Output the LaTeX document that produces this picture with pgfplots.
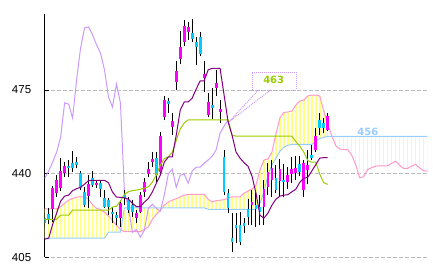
\documentclass[border=0pt]{standalone}
\usepackage{fontspec}
\setmainfont{Liberation Sans}
\newfontfamily\lblfont{DejaVu Sans}
\usepackage{pgfplots}
\usepackage{pgfplotstable}
\pgfplotsset{compat=1.18}
\definecolor{upc}{HTML}{FF00FF}
\definecolor{dnc}{HTML}{00CCFF}
\definecolor{tenkan}{HTML}{800080}
\definecolor{kijun}{HTML}{99CC00}
\definecolor{chikou}{HTML}{CC99FF}
\definecolor{spana}{HTML}{FF99CC}
\definecolor{spanb}{HTML}{99CCFF}
\definecolor{kumo}{HTML}{FFFF80}
\definecolor{gridc}{HTML}{BBBBBB}

\pgfplotstableread{
i o h l c
0 421.4 423.5 417.2 419.3
1 423.0 425.5 418.8 420.9
2 425.1 434.8 419.7 433.9
3 431.8 439.4 430.2 437.3
4 433.9 446.5 432.7 441.1
5 440.2 444.8 438.5 443.2
6 443.2 445.7 438.5 442.3
7 444.4 449.4 440.6 442.3
8 444.8 446.9 442.3 443.6
9 440.2 441.1 433.1 433.9
10 432.3 434.3 426.0 426.8
11 430.6 439.4 425.5 435.6
12 438.1 441.1 434.3 435.2
13 435.2 437.3 433.9 436.0
14 436.0 437.3 430.2 433.5
15 429.7 433.1 425.5 426.0
16 428.9 429.7 422.6 426.0
17 423.9 426.0 419.3 423.3
18 422.6 423.9 418.4 421.4
19 421.4 428.9 417.6 427.6
20 431.0 433.1 426.8 429.7
21 428.9 430.2 423.5 424.7
22 426.8 428.9 421.8 423.9
23 421.4 424.7 419.3 423.5
24 423.9 432.3 423.5 431.0
25 432.3 438.1 430.2 436.4
26 439.8 444.8 438.5 441.9
27 444.8 449.0 442.7 446.1
28 446.5 449.0 436.0 439.4
29 440.6 457.4 439.4 455.7
30 463.7 472.5 462.4 470.8
31 470.4 471.6 465.4 469.1
32 459.5 465.4 456.1 462.0
33 478.4 487.2 475.0 483.0
34 488.0 499.7 485.9 493.0
35 495.1 504.3 493.4 501.8
36 499.3 503.5 496.0 501.4
37 498.9 504.8 495.1 496.4
38 495.1 497.2 485.5 493.0
39 497.2 499.3 489.2 490.1
40 480.0 487.2 474.2 481.7
41 464.5 473.7 463.7 470.0
42 468.7 475.8 462.8 467.5
43 475.8 483.4 472.5 477.9
44 465.8 470.8 461.2 467.0
45 446.9 449.9 431.0 432.3
46 431.8 433.5 423.5 425.5
47 413.0 423.5 407.1 411.3
48 418.4 423.5 410.9 417.2
49 418.4 423.9 410.0 411.3
50 419.3 421.4 415.1 418.0
51 425.1 429.3 418.4 421.8
52 426.8 433.1 418.4 428.1
53 426.8 433.1 417.6 425.1
54 426.0 431.0 418.4 423.9
55 426.0 437.3 418.4 433.5
56 434.3 444.4 431.0 440.6
57 437.3 445.7 430.2 442.3
58 438.1 443.6 431.8 433.1
59 436.9 446.1 430.2 441.9
60 437.3 444.0 430.2 436.4
61 436.4 442.7 433.5 439.4
62 439.8 446.9 436.0 441.9
63 440.2 447.3 437.3 442.3
64 444.0 447.3 439.0 440.6
65 433.1 445.7 430.2 444.4
66 441.5 449.9 435.6 443.6
67 447.8 451.9 445.7 446.5
68 449.9 459.1 449.0 455.7
69 462.4 465.4 456.1 459.1
70 461.2 463.3 457.0 459.1
71 458.2 465.4 457.8 464.1
}\candles

\pgfplotstableread{
i a b
0 425.3 413.0
1 425.3 413.0
2 425.3 413.0
3 425.3 413.0
4 426.2 413.0
5 427.6 413.0
6 428.9 413.0
7 429.6 413.0
8 430.2 413.0
9 430.3 413.0
10 430.3 413.0
11 429.3 413.0
12 427.0 413.0
13 425.5 413.0
14 424.9 413.0
15 423.9 413.0
16 422.2 415.5
17 420.5 415.5
18 418.4 415.5
19 416.7 415.5
20 415.7 425.7
21 415.7 425.7
22 415.7 425.7
23 415.7 425.7
24 415.7 425.7
25 416.7 425.7
26 417.7 425.7
27 420.9 425.7
28 423.0 425.7
29 424.7 425.7
30 426.8 425.7
31 428.1 425.7
32 428.9 425.7
33 429.5 425.7
34 430.3 425.7
35 431.0 425.7
36 431.3 425.7
37 431.3 425.7
38 431.3 425.7
39 431.3 425.7
40 431.3 425.7
41 429.3 425.1
42 428.2 425.1
43 428.7 425.1
44 428.9 425.1
45 429.1 425.1
46 429.7 425.1
47 430.3 425.1
48 430.3 425.1
49 430.3 425.1
50 431.8 425.1
51 432.7 425.1
52 433.5 425.1
53 435.2 425.1
54 441.5 427.6
55 445.7 432.3
56 446.1 439.4
57 449.0 443.6
58 456.6 446.5
59 463.3 449.4
60 465.6 451.1
61 465.8 451.9
62 466.2 452.2
63 468.7 452.2
64 470.4 452.2
65 470.8 452.2
66 472.5 452.2
67 472.9 452.2
68 472.9 453.6
69 472.5 454.7
70 466.2 455.2
71 460.8 455.6
72 455.9 455.6
73 451.7 455.6
74 450.3 455.6
75 450.1 455.6
76 450.1 455.6
77 447.8 455.6
78 443.8 455.6
79 438.3 455.6
80 438.7 455.6
81 441.7 455.6
82 442.5 455.6
83 443.1 455.6
84 443.3 455.6
85 443.3 455.6
86 443.3 455.6
87 444.3 455.6
88 445.2 455.6
89 443.6 455.6
90 442.2 455.6
91 442.2 455.6
92 443.1 455.6
93 443.9 455.6
94 442.5 455.6
95 441.2 455.6
96 441.1 455.6
}\spans

\pgfplotstableread{
i t k
0 412.6 420.9
1 413.0 420.9
2 418.8 420.9
3 423.5 420.9
4 428.5 422.6
5 430.6 422.6
6 431.0 422.6
7 432.9 424.7
8 433.7 424.7
9 434.3 424.7
10 435.6 424.7
11 437.1 424.7
12 437.2 424.7
13 437.2 424.7
14 437.2 424.7
15 437.2 424.7
16 436.2 424.7
17 432.3 426.0
18 430.2 426.4
19 430.1 428.5
20 429.9 431.4
21 429.3 432.4
22 427.6 432.9
23 426.2 433.1
24 426.2 433.5
25 428.1 433.9
26 429.6 434.5
27 432.3 436.4
28 436.0 439.4
29 439.4 443.6
30 444.8 446.3
31 447.0 447.0
32 447.0 449.0
33 456.1 454.0
34 466.6 458.7
35 470.0 461.2
36 470.0 462.5
37 471.6 462.5
38 475.4 462.5
39 478.8 462.5
40 478.8 462.5
41 483.4 462.5
42 484.1 462.5
43 484.1 462.5
44 484.0 462.5
45 472.9 462.5
46 461.7 462.5
47 456.1 456.1
48 449.0 455.7
49 446.5 455.7
50 444.6 455.7
51 443.1 455.7
52 439.0 455.7
53 431.8 455.7
54 422.6 455.7
55 421.4 455.7
56 423.5 455.7
57 426.8 455.7
58 429.3 455.7
59 430.6 455.7
60 431.0 455.7
61 431.2 455.7
62 432.4 455.7
63 433.5 453.4
64 436.4 451.5
65 438.0 449.0
66 438.5 445.5
67 441.1 444.8
68 443.8 444.8
69 446.5 439.8
70 446.7 436.2
71 446.7 435.5
}\tk

\pgfplotstableread{
i v
0 438.1
1 441.1
2 444.8
3 449.0
4 455.3
5 469.6
6 469.1
7 463.3
8 479.2
9 492.6
10 501.0
11 501.4
12 498.1
13 493.9
14 490.5
15 483.4
16 472.1
17 467.9
18 477.5
19 469.6
20 432.5
21 426.0
22 415.5
23 416.7
24 413.4
25 416.3
26 425.5
27 427.2
28 425.5
29 424.3
30 431.0
31 439.8
32 441.9
33 434.3
34 439.4
35 439.8
36 436.0
37 441.1
38 442.7
39 442.7
40 444.4
41 445.7
42 447.3
43 449.9
44 457.0
45 459.9
46 462.4
}\chik

\pgfplotsset{vbars/.style 2 args={only marks, mark=*, mark size=0pt, mark options={draw=none, fill=none},
  error bars/y dir=plus, error bars/y explicit, error bars/error mark=none,
  error bars/error bar style={#1, line width=#2}}}

\begin{document}
\begin{tikzpicture}
\begin{axis}[
  scale only axis, width=382.7pt, height=243.3pt,
  at={(44.7pt,13.7pt)}, anchor=south west,
  xmin=0, xmax=96, ymin=405, ymax=506.8,
  axis x line=none, axis y line*=left,
  xtick=\empty,
  ytick={405,440,475},
  ymajorgrids,
  major grid style={gridc, line width=1pt, dash pattern=on 4pt off 2pt},
  axis line style={black, line width=1pt},
  tick style={black, line width=1pt}, major tick length=4pt,
  tick align=inside,
  /pgf/number format/assume math mode=true,
  yticklabel style={font=\fontsize{11.5}{13}\selectfont, xshift=-10pt},
]
% cloud hatching
\addplot[vbars={kumo}{1.5pt}]
  table[x=i, y expr={min(\thisrow{a},\thisrow{b})}, y error expr={abs(\thisrow{a}-\thisrow{b})}] {\spans};
\addplot[spana, line width=1pt] table[x=i, y=a] {\spans};
\addplot[spanb, line width=1pt] table[x=i, y=b] {\spans};
\addplot[chikou, line width=1pt] table[x=i, y=v] {\chik};
% wicks
\addplot[vbars={black}{1pt}]
  table[x=i, y=l, y error expr={\thisrow{h}-\thisrow{l}}] {\candles};
% bodies up
\addplot[vbars={upc}{2.8pt}]
  table[x=i, y=o, y error expr={max(\thisrow{c}-\thisrow{o},0)}] {\candles};
% bodies down
\addplot[vbars={dnc}{2.8pt}]
  table[x=i, y=c, y error expr={max(\thisrow{o}-\thisrow{c},0)}] {\candles};
\addplot[kijun, line width=1pt] table[x=i, y=k] {\tk};
\addplot[tenkan, line width=1pt] table[x=i, y=t] {\tk};
% annotations
\draw[chikou, line width=1pt, dash pattern=on 1pt off 1pt] (axis cs:52.07,475) rectangle (axis cs:63.1,482.5);
\draw[chikou, line width=1pt, dash pattern=on 1pt off 1pt] (axis cs:53.6,475) -- (axis cs:46.3,461.8) -- (axis cs:56.65,475);
\node[font={\lblfont\bfseries\fontsize{10}{11}\selectfont}, text=kijun, inner sep=0pt] at (axis cs:57.45,479.3) {463};
\node[font={\lblfont\bfseries\fontsize{10}{11}\selectfont}, text=spanb, inner sep=0pt, anchor=base] at (axis cs:81.06,456.1) {456};
\end{axis}
\pgfresetboundingbox
\useasboundingbox (0,0) rectangle (433pt,271pt);
\end{tikzpicture}
\end{document}
